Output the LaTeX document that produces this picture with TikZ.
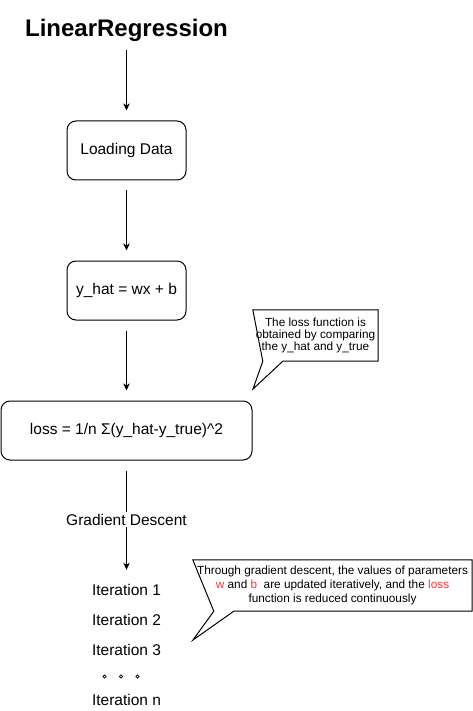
\documentclass[tikz,border=0pt]{standalone}
\usepackage{fontspec}
\setmainfont{Liberation Sans}
\usetikzlibrary{arrows.meta}
\definecolor{hlred}{RGB}{255,51,51}
\tikzset{>={Stealth[length=7pt,width=6.5pt,inset=2pt]}}
\tikzset{
  stepbox/.style={draw,rounded corners=9pt,line width=1pt,minimum height=59pt,inner sep=0pt,
    font=\fontsize{15.5}{18}\selectfont},
  itlabel/.style={font=\fontsize{15.5}{18}\selectfont,minimum height=30pt,inner sep=0pt},
  note/.style={align=center,inner sep=0pt},
  flow/.style={->,line width=1pt,shorten <=10pt,shorten >=10pt},
  tail/.style={line width=1pt,line join=miter},
}

\begin{document}
\begin{tikzpicture}[x=1pt,y=-1pt]
  \useasboundingbox (0,0) rectangle (473,711);
  % main chain
  \node[font=\bfseries\fontsize{24}{28}\selectfont,minimum height=40pt,inner sep=0pt] (title) at (126.5,30) {LinearRegression};
  \node[stepbox,minimum width=119pt] (load) at (126.5,150.5) {Loading Data};
  \node[stepbox,minimum width=119pt] (model) at (126.5,290.5) {y\_hat = wx + b};
  \node[stepbox,minimum width=251pt] (loss) at (126.5,430.5) {loss = 1/n Σ(y\_hat-y\_true)\textasciicircum 2};
  \node[itlabel] (it1) at (126.5,590) {Iteration 1};
  \node[itlabel] (it2) at (126.5,620) {Iteration 2};
  \node[itlabel] (it3) at (126.5,650) {Iteration 3};
  \node[itlabel] (itn) at (126.5,700) {Iteration n};
  \foreach \dx in {-16.5,0,16.5}
    \draw[line width=0.7pt] (121+\dx,676.5) circle (1.6);

  \draw[flow,shorten <=0pt] (title) -- (load);
  \draw[flow] (load) -- (model);
  \draw[flow] (model) -- (loss);
  \draw[flow,shorten >=5pt] (loss) -- node[fill=white,inner sep=2pt,yshift=-2pt,font=\fontsize{15.5}{18}\selectfont] {Gradient Descent} (it1);

  % callouts
  \node[note,minimum width=125pt,minimum height=51pt,font=\fontsize{11.8}{12.3}\selectfont] (lossnote) at (315.5,335.5)
    {The loss function is\\obtained by comparing\\the y\_hat and y\_true};
  \coordinate (lossnotetip) at (253,389);
  \draw[tail] (lossnote.north west) -- (lossnote.north east) -- (lossnote.south east)
    -- ([xshift=30pt]lossnote.south west) -- (lossnotetip) -- ([xshift=10pt]lossnote.south west) -- cycle;

  \node[note,minimum width=279pt,minimum height=51pt,font=\fontsize{11.8}{13.8}\selectfont] (gdnote) at (332.5,585.5)
    {Through gradient descent, the values of parameters\\
     {\color{hlred}w} and {\color{hlred}b}\ \ are updated iteratively, and the {\color{hlred}loss}\\
     function is reduced continuously};
  \coordinate (gdnotetip) at (193,640);
  \draw[tail] (gdnote.north west) -- (gdnote.north east) -- (gdnote.south east)
    -- ([xshift=41pt]gdnote.south west) -- (gdnotetip) -- ([xshift=21pt]gdnote.south west) -- cycle;
\end{tikzpicture}
\end{document}
